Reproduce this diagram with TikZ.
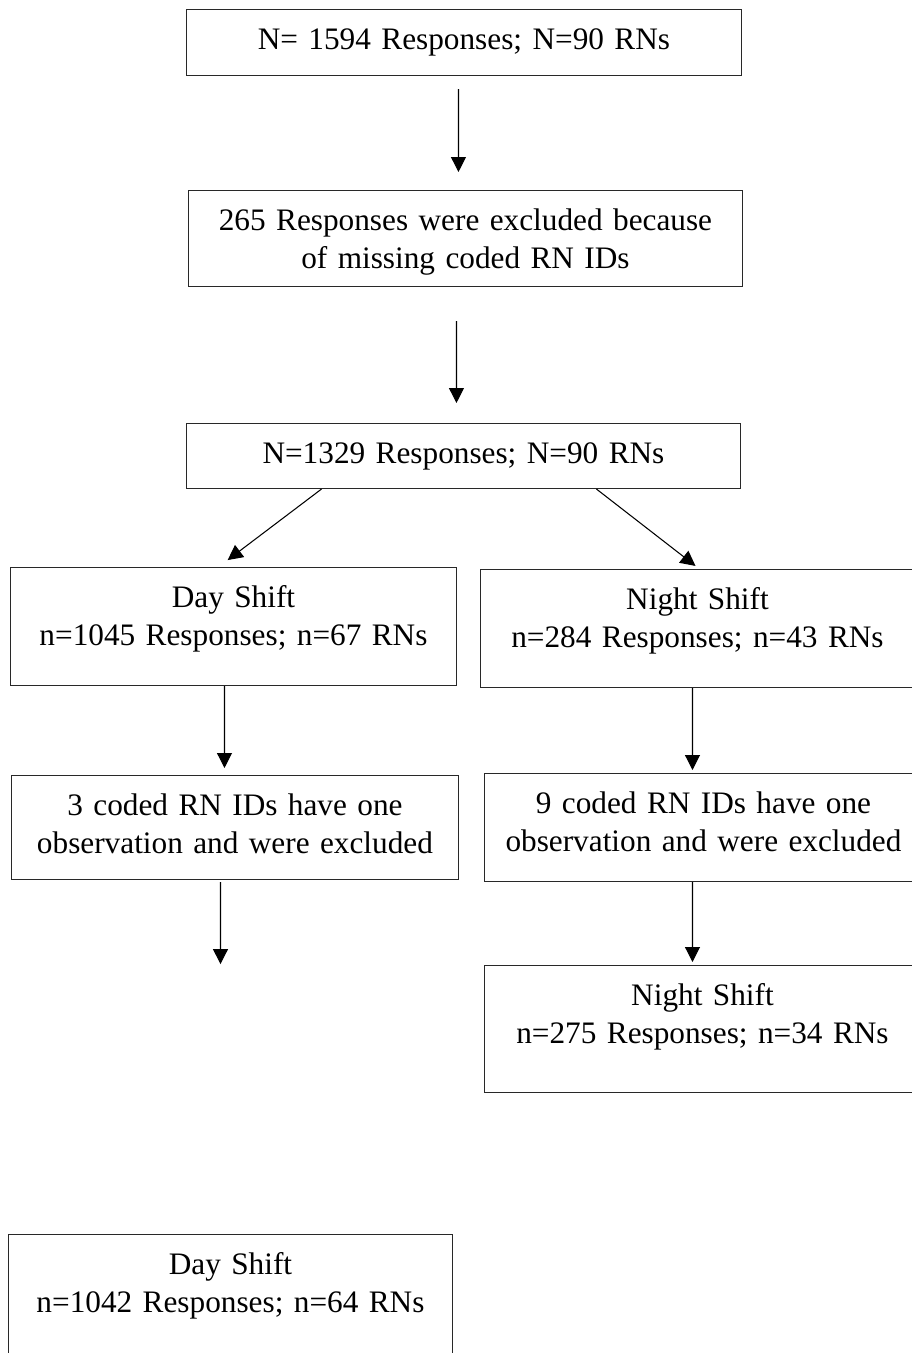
\documentclass[tikz,border=0pt]{standalone}
\usepackage{fontspec}
\setmainfont{Liberation Serif}
\usetikzlibrary{arrows.meta}
\definecolor{BoxLine}{RGB}{40,40,40}

\begin{document}
\begin{tikzpicture}[x=0.02cm,y=-0.02cm,
  flowbox/.style={draw=BoxLine,line width=0.6pt,text width=#1,align=center,
    inner sep=0pt,anchor=north west,text height=0.8cm,
    font=\fontsize{17.8}{21.6}\selectfont},
  flowarrow/.style={-{Triangle[length=0.3cm,width=0.3cm]},line width=0.6pt}]
  \useasboundingbox (0,0) rectangle (912,1353);
  \node[flowbox=11.1cm,text depth=0.52cm] (total) at (186,9)
    {N= 1594 Responses; N=90 RNs};
  \node[flowbox=11.08cm,text depth=1.12cm] (missing) at (188,190)
    {265 Responses were excluded because\\ of missing coded RN IDs};
  \node[flowbox=11.08cm,text depth=0.5cm] (kept) at (186,423)
    {N=1329 Responses; N=90 RNs};
  \node[flowbox=8.92cm,text depth=1.56cm] (day) at (10,567)
    {Day Shift\\ n=1045 Responses; n=67 RNs};
  \node[flowbox=8.68cm,text depth=1.56cm] (night) at (480,569)
    {Night Shift\\ n=284 Responses; n=43 RNs};
  \node[flowbox=8.94cm,text depth=1.28cm] (dayone) at (11,775)
    {3 coded RN IDs have one\\ observation and were excluded};
  \node[flowbox=8.76cm,text depth=1.36cm] (nightone) at (484,773)
    {9 coded RN IDs have one\\ observation and were excluded};
  \node[flowbox=8.72cm,text depth=1.74cm] (nightfinal) at (484,965)
    {Night Shift\\ n=275 Responses; n=34 RNs};
  \node[flowbox=8.88cm,text depth=2.52cm] (dayfinal) at (8,1234)
    {Day Shift\\ n=1042 Responses; n=64 RNs};

  \draw[flowarrow,shorten <=0.26cm,shorten >=0.36cm]
    ([xshift=-0.11cm]total.south) -- ([xshift=-0.14cm]missing.north);
  \draw[flowarrow,shorten <=0.68cm,shorten >=0.4cm]
    ([xshift=-0.18cm]missing.south) -- ([xshift=-0.14cm]kept.north);
  \draw[flowarrow,shorten >=0.23cm]
    ([xshift=-2.84cm]kept.south) -- ([xshift=-0.3cm]day.north);
  \draw[flowarrow,shorten >=0.1cm]
    ([xshift=2.66cm]kept.south) -- ([xshift=0.04cm]night.north);
  \draw[flowarrow,shorten >=0.14cm]
    ([xshift=-0.18cm]day.south) -- ([xshift=-0.21cm]dayone.north);
  \draw[flowarrow,shorten >=0.06cm]
    ([xshift=-0.1cm]night.south) -- ([xshift=-0.22cm]nightone.north);
  \draw[flowarrow,shorten <=0.04cm,shorten >=5.4cm]
    ([xshift=-0.29cm]dayone.south) -- ([xshift=-0.2cm]dayfinal.north);
  \draw[flowarrow,shorten >=0.06cm]
    ([xshift=-0.22cm]nightone.south) -- ([xshift=-0.2cm]nightfinal.north);
\end{tikzpicture}
\end{document}
